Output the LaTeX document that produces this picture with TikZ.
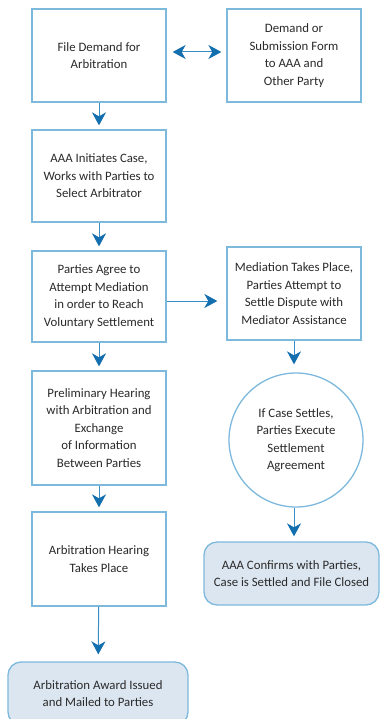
\documentclass[tikz,border=0pt]{standalone}
\usepackage{fontspec}
\setmainfont{Carlito}
\usetikzlibrary{arrows.meta,calc}
\definecolor{boxline}{HTML}{7DB9DD}
\definecolor{arrline}{HTML}{3A8DC4}
\definecolor{arrhead}{HTML}{136FAE}
\definecolor{fillend}{HTML}{DCE6F1}
\definecolor{txt}{HTML}{2A2A2A}
\tikzset{
  stepbox/.style={draw=boxline, line width=1.3pt, fill=white, minimum width=134pt,
    align=center, text=txt, font=\fontsize{12.8pt}{17.5pt}\selectfont, inner sep=1pt},
  endbox/.style={stepbox, fill=fillend, rounded corners=13pt},
  circbox/.style={stepbox, circle, minimum size=134pt},
  flow/.style={draw=arrline, line width=1pt,
    >={Stealth[length=13pt,width=14pt,inset=4pt,color=arrhead]}, ->, shorten >=4pt},
  dflow/.style={draw=arrline, line width=1pt,
    >={Stealth[length=13pt,width=14pt,inset=4pt,color=arrhead]}, <->, shorten >=5pt, shorten <=6pt}
}
\begin{document}
\begin{tikzpicture}[x=1pt,y=1pt]
\useasboundingbox (0,0) rectangle (380,-719);
\clip (0,0) rectangle (380,-719);
\node[stepbox, minimum height=93pt] (b1) at (99,-55.5) {File Demand for\\Arbitration};
\node[stepbox, minimum height=93pt] (b2) at (294,-55.5) {Demand or\\Submission Form\\to AAA and\\Other Party};
\node[stepbox, minimum height=92pt] (b3) at (99,-176) {AAA Initiates Case,\\Works with Parties to\\Select Arbitrator};
\node[stepbox, minimum height=91pt] (b4) at (99,-296.5) {Parties Agree to\\Attempt Mediation\\in order to Reach\\Voluntary Settlement};
\node[stepbox, minimum height=93pt] (b5) at (294,-293.5) {Mediation Takes Place,\\Parties Attempt to\\Settle Dispute with\\Mediator Assistance};
\node[stepbox, minimum height=114pt] (b6) at (99,-428) {Preliminary Hearing\\with Arbitration and\\Exchange\\of Information\\Between Parties};
\node[stepbox, minimum height=94pt] (b7) at (99,-559) {Arbitration Hearing\\Takes Place};
\node[circbox] (c) at (296,-440) {If Case Settles,\\Parties Execute\\Settlement\\Agreement};
\node[endbox, minimum width=175pt, minimum height=63pt] (conf) at (291.5,-573.5) {AAA Confirms with Parties,\\Case is Settled and File Closed};
\node[endbox, minimum width=180pt, minimum height=63pt] (award) at (98,-693.5) {Arbitration Award Issued\\and Mailed to Parties};

\draw[dflow] ([yshift=3.5pt]b1.east) -- ([yshift=3.5pt]b1.east -| b2.west);
\draw[flow] (b1) -- (b3);
\draw[flow] (b3) -- (b4);
\draw[flow] (b4) -- (b6);
\draw[flow] (b6) -- (b7);
\draw[flow, shorten >=7pt] (b7) -- (award);
\draw[flow, shorten >=9pt] ([yshift=-4.5pt]b4.east) -- ([yshift=-4.5pt]b4.east -| b5.west);
\draw[flow, shorten >=8pt] (b5.south) -- (b5.south |- c.north);
\draw[flow, shorten >=5pt] (b5.south |- c.south) -- (b5.south |- conf.north);
\end{tikzpicture}
\end{document}
